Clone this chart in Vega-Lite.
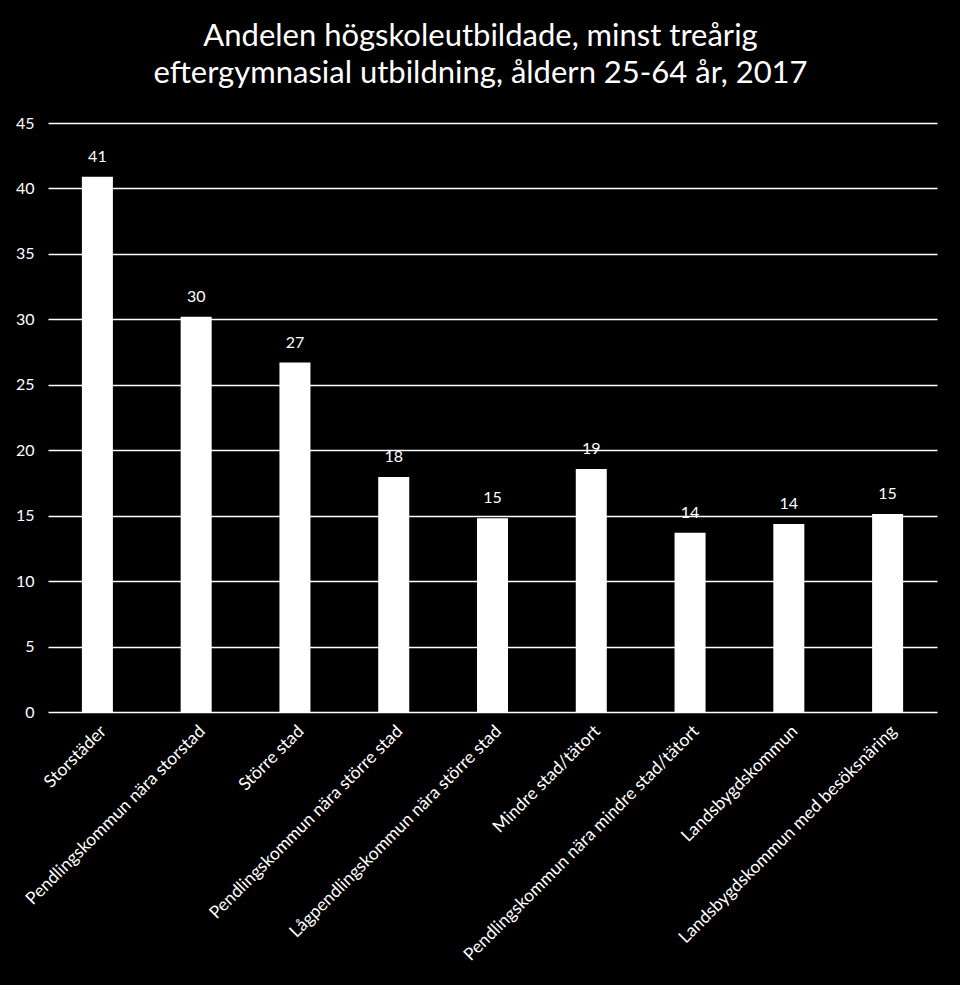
{
  "$schema": "https://vega.github.io/schema/vega-lite/v6.json",
  "autosize": {"type": "none"},
  "padding": {"left": 48, "top": 123, "right": 23, "bottom": 273},
  "width": 889,
  "height": 589,
  "background": "black",
  "title": {
    "text": ["Andelen högskoleutbildade, minst treårig", "eftergymnasial utbildning, åldern 25-64 år, 2017"],
    "color": "white",
    "font": "Lato",
    "fontSize": 31,
    "fontWeight": "normal",
    "lineHeight": 37,
    "anchor": "middle",
    "dx": -12,
    "offset": 25
  },
  "data": {
    "values": [
      {"typ": "Storstäder", "andel": 40.9},
      {"typ": "Pendlingskommun nära storstad", "andel": 30.2},
      {"typ": "Större stad", "andel": 26.7},
      {"typ": "Pendlingskommun nära större stad", "andel": 17.95},
      {"typ": "Lågpendlingskommun nära större stad", "andel": 14.8},
      {"typ": "Mindre stad/tätort", "andel": 18.56},
      {"typ": "Pendlingskommun nära mindre stad/tätort", "andel": 13.7},
      {"typ": "Landsbygdskommun", "andel": 14.36},
      {"typ": "Landsbygdskommun med besöksnäring", "andel": 15.13}
    ]
  },
  "encoding": {
    "x": {
      "field": "typ",
      "type": "nominal",
      "sort": null,
      "title": null,
      "scale": {"paddingInner": 0.686, "paddingOuter": 0.343},
      "axis": {
        "labelAngle": -45,
        "labelColor": "white",
        "labelFont": "Lato",
        "labelFontSize": 17.5,
        "labelPadding": 10,
        "labelLimit": 400,
        "ticks": false,
        "domain": false
      }
    },
    "y": {
      "field": "andel",
      "type": "quantitative",
      "title": null,
      "scale": {"domain": [0, 45]},
      "axis": {
        "values": [0, 5, 10, 15, 20, 25, 30, 35, 40, 45],
        "labelColor": "white",
        "labelFont": "Lato",
        "labelFontSize": 16,
        "labelPadding": 14,
        "ticks": false,
        "domain": false,
        "grid": true,
        "gridColor": "white",
        "gridWidth": 1.7,
        "gridOpacity": 1
      }
    }
  },
  "layer": [
    {"mark": {"type": "bar", "color": "white"}},
    {
      "mark": {"type": "text", "color": "white", "font": "Lato", "fontSize": 16, "baseline": "bottom", "dy": -12},
      "encoding": {"text": {"field": "andel", "type": "quantitative", "format": ".0f"}}
    }
  ],
  "config": {"view": {"stroke": null}}
}
